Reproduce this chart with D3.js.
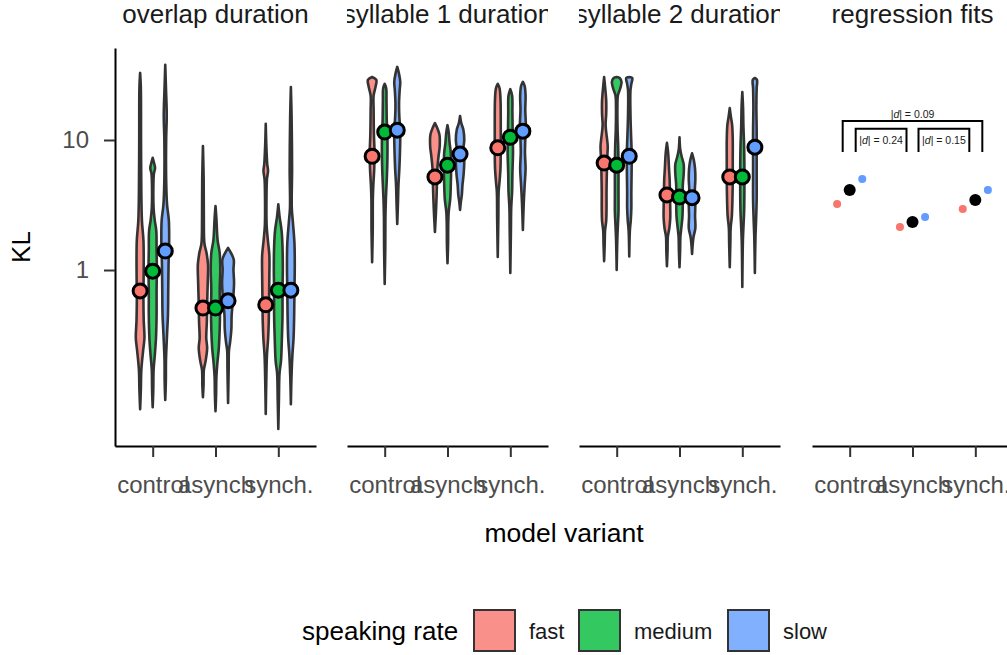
<!DOCTYPE html>
<html><head><meta charset="utf-8">
<script src="https://cdn.jsdelivr.net/npm/d3@7"></script>
<style>
body{margin:0;background:#fff;}
text{font-family:"Liberation Sans",Arial,sans-serif;}
</style></head>
<body><svg id="c" width="1007" height="655"></svg>
<script>
// ---------- data ----------
const panels = ["overlap duration","syllable 1 duration","syllable 2 duration","regression fits"];
const categories = ["control","asynch","synch."];
const rates = ["fast","medium","slow"];
const rateColors = ["#F8766D","#00BA38","#619CFF"];
const yTicks = [1,10];

// mean KL per category (rows) and rate (cols)
const meanOverlap = [[0.69,0.98,1.40],[0.51,0.51,0.58],[0.54,0.70,0.70]];
const meanSyll1   = [[7.5,11.5,11.9],[5.2,6.4,7.8],[8.7,10.5,11.7]];
const meanSyll2   = [[6.65,6.4,7.5],[3.78,3.64,3.6],[5.2,5.2,8.8]];

// violin density outlines: [KL, relative half-width]
const violinOverlap = [
 [ // control
  [[32.8,0],[25,0.12],[10,0.15],[4,0.2],[2.4,0.3],[1.7,0.55],[1.2,0.6],[0.84,0.58],[0.6,0.55],[0.41,0.6],[0.3,0.72],[0.24,0.5],[0.17,0.2],[0.12,0.12],[0.085,0]],
  [[7.3,0],[6.6,0.25],[6.1,0.4],[5.5,0.2],[4.5,0.12],[3,0.15],[2.4,0.35],[2,0.6],[1.4,0.65],[1,0.7],[0.7,0.65],[0.45,0.65],[0.3,0.55],[0.22,0.35],[0.17,0.15],[0.12,0.1],[0.088,0]],
  [[37.8,0],[25,0.12],[15.5,0.25],[10,0.15],[5,0.15],[3.2,0.3],[2.4,0.6],[1.6,0.65],[1.1,0.55],[0.7,0.5],[0.45,0.45],[0.32,0.3],[0.2,0.12],[0.14,0.1],[0.10,0]]
 ],
 [ // asynch
  [[9,0],[5,0.12],[2.5,0.15],[1.6,0.25],[1.35,0.6],[1.1,0.85],[0.8,0.8],[0.55,0.7],[0.4,0.65],[0.3,0.55],[0.25,0.7],[0.2,0.45],[0.17,0.15],[0.13,0.1],[0.105,0]],
  [[3.1,0],[2.5,0.15],[1.7,0.35],[1.35,0.7],[1.0,0.8],[0.7,0.7],[0.5,0.75],[0.35,0.7],[0.25,0.55],[0.19,0.3],[0.15,0.15],[0.11,0.1],[0.082,0]],
  [[1.48,0],[1.35,0.5],[1.2,0.95],[1.0,0.9],[0.8,1.0],[0.6,0.85],[0.45,0.6],[0.35,0.55],[0.28,0.35],[0.24,0.15],[0.17,0.1],[0.095,0]]
 ],
 [ // synch
  [[13.3,0],[9,0.1],[6.5,0.25],[5.8,0.38],[5,0.2],[3.5,0.12],[2.2,0.15],[1.7,0.35],[1.3,0.6],[0.9,0.6],[0.6,0.55],[0.4,0.5],[0.3,0.4],[0.22,0.2],[0.15,0.1],[0.078,0]],
  [[3.2,0],[2.6,0.2],[2.0,0.55],[1.5,0.7],[1.0,0.75],[0.7,0.7],[0.45,0.7],[0.3,0.6],[0.2,0.45],[0.16,0.2],[0.1,0.1],[0.06,0]],
  [[25.5,0],[15,0.12],[6,0.2],[3,0.15],[2.3,0.35],[1.6,0.6],[1.1,0.65],[0.7,0.6],[0.45,0.55],[0.3,0.45],[0.22,0.25],[0.15,0.1],[0.093,0]]
 ]
];
const violinSyll1 = [
 [
  [[30.5,0],[29,0.7],[26,0.6],[22,0.25],[17,0.25],[11,0.3],[8,0.4],[6,0.35],[4.5,0.2],[3.5,0.12],[2,0.1],[1.15,0]],
  [[27,0],[25,0.25],[20,0.3],[14,0.35],[11,0.45],[7,0.45],[5,0.35],[3.5,0.2],[2.5,0.12],[1.5,0.1],[0.78,0]],
  [[36.5,0],[33,0.25],[28,0.5],[24,0.4],[19,0.3],[15,0.35],[12,0.5],[8,0.45],[6,0.35],[4.5,0.2],[3.3,0.12],[2.26,0]]
 ],
 [
  [[13.5,0],[12.5,0.35],[11,0.75],[9,0.8],[7.5,0.6],[6,0.4],[5,0.35],[4,0.3],[3,0.2],[2.5,0.12],[1.96,0]],
  [[13,0],[11.5,0.2],[9.5,0.35],[8,0.55],[6,0.6],[4.5,0.55],[3.5,0.45],[2.8,0.2],[2.2,0.12],[1.6,0.1],[1.13,0]],
  [[15.3,0],[13.5,0.2],[12,0.55],[10,0.7],[8.5,0.55],[7,0.7],[5.5,0.6],[4.5,0.4],[3.8,0.3],[3.3,0.12],[2.9,0]]
 ],
 [
  [[27,0],[25,0.3],[21,0.45],[15,0.5],[11,0.5],[8,0.5],[6,0.45],[4.8,0.3],[4,0.15],[2.5,0.1],[1.26,0]],
  [[24.6,0],[22,0.3],[16,0.35],[11,0.4],[8,0.45],[5.5,0.35],[4,0.3],[3,0.15],[2,0.1],[0.95,0]],
  [[28,0],[26,0.3],[22,0.45],[17,0.4],[13,0.5],[10,0.4],[8,0.35],[6,0.45],[4.5,0.3],[3.3,0.15],[2.03,0]]
 ]
];
const violinSyll2 = [
 [
  [[30.5,0],[26,0.15],[20,0.35],[16,0.35],[13,0.25],[10.5,0.45],[9,0.6],[7,0.5],[5.5,0.45],[4,0.4],[3,0.4],[2.4,0.35],[2,0.15],[1.6,0.1],[1.17,0]],
  [[30.5,0],[30,0.5],[28,0.8],[25,0.6],[22,0.2],[18,0.12],[12,0.15],[9,0.25],[6,0.3],[4,0.3],[2.8,0.3],[2.2,0.2],[1.7,0.1],[1.0,0]],
  [[30.5,0],[30,0.5],[27,0.35],[24,0.2],[16,0.2],[11,0.3],[8,0.4],[6,0.4],[4,0.35],[3,0.35],[2.4,0.25],[2,0.1],[1.27,0]]
 ],
 [
  [[9.5,0],[8,0.2],[6,0.35],[5,0.45],[4,0.5],[3,0.55],[2.5,0.55],[2.1,0.4],[1.8,0.15],[1.4,0.1],[1.07,0]],
  [[10.5,0],[8.5,0.12],[7.5,0.35],[6.5,0.7],[5.5,0.7],[4.5,0.55],[3.5,0.55],[2.6,0.5],[2.1,0.3],[1.8,0.15],[1.4,0.1],[1.05,0]],
  [[7.9,0],[7,0.3],[6,0.5],[5,0.55],[4,0.45],[3.3,0.55],[2.6,0.5],[2.1,0.55],[1.8,0.25],[1.6,0.12],[1.33,0]]
 ],
 [
  [[17.6,0],[15,0.2],[13,0.4],[10,0.5],[7,0.5],[5,0.5],[3.5,0.45],[2.6,0.35],[2.1,0.15],[1.6,0.1],[1.05,0]],
  [[23.4,0],[18,0.12],[13,0.18],[9,0.3],[6,0.35],[4,0.35],[2.8,0.3],[2.2,0.2],[1.7,0.1],[0.74,0]],
  [[30,0],[29,0.35],[25,0.3],[18,0.25],[12,0.3],[8,0.3],[5,0.3],[3.5,0.3],[2.4,0.2],[1.8,0.1],[0.95,0]]
 ]
];

// regression fits: [fast, overall, slow] per category
const fitFast    = [3.22,2.14,2.94];
const fitOverall = [4.12,2.34,3.45];
const fitSlow    = [5.01,2.56,4.12];
// effect-size comparisons
const compFrom  = ["control","control","asynch"];
const compTo    = ["synch.","asynch","synch."];
const compLabel = ["0.09","0.24","0.15"];
const compLevel = [2,1,1];

// ---------- layout ----------
const svg = d3.select("#c");
const panelX = [115,347,579,812], panelW = 201;
const yTop = 48, yBot = 446;
const y = d3.scaleLog().domain([0.0443,51.0]).range([yBot,yTop]);
const W = 6; // max violin half-width in px

const defs = svg.append("defs");
panels.forEach((p,i)=>{
  defs.append("clipPath").attr("id","clip"+i).append("rect")
    .attr("x",panelX[i]).attr("y",0).attr("width",panelW).attr("height",40);
});

const violinSets = [violinOverlap, violinSyll1, violinSyll2];
const meanSets = [meanOverlap, meanSyll1, meanSyll2];

panels.forEach((title,pi)=>{
  const x = d3.scalePoint().domain(categories).range([panelX[pi],panelX[pi]+panelW]).padding(0.6);
  const dodge = x.step()*0.2;
  const g = svg.append("g");
  // strip title
  g.append("text").attr("clip-path","url(#clip"+pi+")")
    .attr("x",panelX[pi]+panelW/2).attr("y",23).attr("text-anchor","middle")
    .attr("font-size",26).attr("fill","#1A1A1A").text(title);

  // x axis
  const ax = g.append("g").attr("transform",`translate(0,${yBot})`)
    .call(d3.axisBottom(x).tickSize(11).tickSizeOuter(0).tickPadding(19));
  ax.select(".domain").attr("stroke","#000").attr("stroke-width",2);
  ax.selectAll(".tick line").attr("stroke","#333").attr("stroke-width",2);
  ax.selectAll(".tick text").attr("font-size",24).attr("fill","#4D4D4D")
    .attr("font-family","Liberation Sans, Arial, sans-serif");

  if (pi < 3) {
    const area = d3.area()
      .y(d=>y(d[0]))
      .curve(d3.curveCatmullRom.alpha(0.5));
    categories.forEach((c,ci)=>{
      rates.forEach((r,ri)=>{
        const cx = x(c) + (ri-1)*dodge;
        area.x0(d=>cx-d[1]*W).x1(d=>cx+d[1]*W);
        g.append("path").attr("d",area(violinSets[pi][ci][ri]))
          .attr("fill",rateColors[ri]).attr("fill-opacity",0.8)
          .attr("stroke","#333").attr("stroke-width",2.6).attr("stroke-linejoin","round");
      });
    });
    categories.forEach((c,ci)=>{
      rates.forEach((r,ri)=>{
        const cx = x(c) + (ri-1)*dodge;
        g.append("circle").attr("cx",cx).attr("cy",y(meanSets[pi][ci][ri])).attr("r",7)
          .attr("fill",rateColors[ri]).attr("stroke","#000").attr("stroke-width",3);
      });
    });
  } else {
    categories.forEach((c,ci)=>{
      g.append("circle").attr("cx",x(c)-dodge).attr("cy",y(fitFast[ci])).attr("r",4).attr("fill",rateColors[0]);
      g.append("circle").attr("cx",x(c)+dodge).attr("cy",y(fitSlow[ci])).attr("r",4).attr("fill",rateColors[2]);
      g.append("circle").attr("cx",x(c)).attr("cy",y(fitOverall[ci])).attr("r",6).attr("fill","#000");
    });
    // brackets
    const bottomV = 8.1, topV = {1:12.2, 2:14.0};
    compFrom.forEach((f,k)=>{
      const lvl = compLevel[k];
      const inset = lvl===2 ? -7 : 6;
      const x1 = x(f)+inset, x2 = x(compTo[k])-inset;
      const yt = y(topV[lvl]), yb = y(bottomV);
      g.append("path").attr("d",`M${x1},${yb}V${yt}H${x2}V${yb}`)
        .attr("fill","none").attr("stroke","#000").attr("stroke-width",2);
      const t = g.append("text").attr("x",(x1+x2)/2)
        .attr("y", lvl===2 ? yt-3 : yt+15).attr("text-anchor","middle")
        .attr("font-size",10.5).attr("fill","#1A1A1A");
      t.append("tspan").text("|");
      t.append("tspan").attr("font-style","italic").text("d");
      t.append("tspan").text("| = "+compLabel[k]);
    });
  }
});

// y axis (first panel only)
const yax = svg.append("g").attr("transform",`translate(${panelX[0]},0)`)
  .call(d3.axisLeft(y).tickValues(yTicks).tickFormat(d3.format("d")).tickSize(11).tickSizeOuter(0).tickPadding(15));
yax.select(".domain").attr("stroke","#000").attr("stroke-width",2);
yax.selectAll(".tick line").attr("stroke","#333").attr("stroke-width",2);
yax.selectAll(".tick text").attr("font-size",24).attr("fill","#4D4D4D")
  .attr("font-family","Liberation Sans, Arial, sans-serif");

// axis titles
svg.append("text").attr("x",564).attr("y",542).attr("text-anchor","middle")
  .attr("font-size",26.5).attr("fill","#000").text("model variant");
svg.append("text").attr("transform","translate(30,247) rotate(-90)").attr("text-anchor","middle")
  .attr("font-size",26).attr("fill","#000").text("KL");

// legend
const leg = svg.append("g");
leg.append("text").attr("x",302).attr("y",640).attr("font-size",26).attr("fill","#000").text("speaking rate");
const boxX = [474,579,728];
rates.forEach((r,i)=>{
  leg.append("rect").attr("x",boxX[i]).attr("y",610).attr("width",41).attr("height",41)
    .attr("fill",rateColors[i]).attr("fill-opacity",0.8).attr("stroke","#333").attr("stroke-width",2);
  leg.append("text").attr("x",boxX[i]+55).attr("y",639).attr("font-size",22).attr("fill","#1A1A1A").text(r);
});
</script></body></html>
